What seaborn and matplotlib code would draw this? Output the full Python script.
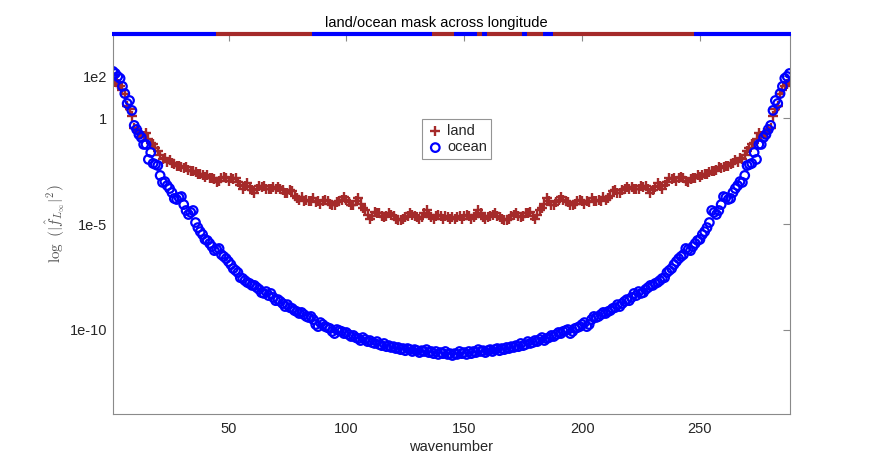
import numpy as np
import matplotlib
matplotlib.use('Agg')
import matplotlib.pyplot as plt
import seaborn as sns

# log10 of the power spectrum, wavenumbers 1..145;
# the spectrum of a real signal is symmetric, so 146..288 mirror 144..2
land_log_half = [
    1.90, 1.75, 1.61, 1.52, 1.33, 1.18, 0.57, 0.47, 0.14, -0.43,
    -0.57, -0.71, -0.71, -0.81, -0.71, -0.95, -1.14, -1.23, -1.42, -1.56,
    -1.75, -1.90, -1.85, -2.04, -1.99, -2.13, -2.18, -2.23, -2.27, -2.32,
    -2.37, -2.32, -2.46, -2.51, -2.51, -2.56, -2.65, -2.65, -2.70, -2.75,
    -2.70, -2.84, -2.80, -2.89, -2.99, -2.94, -2.84, -2.75, -2.80, -2.94,
    -2.84, -2.89, -2.84, -2.99, -3.13, -3.32, -3.18, -3.08, -3.27, -3.41,
    -3.51, -3.36, -3.22, -3.27, -3.22, -3.36, -3.32, -3.32, -3.27, -3.32,
    -3.27, -3.36, -3.41, -3.51, -3.55, -3.41, -3.46, -3.65, -3.79, -3.84,
    -3.74, -3.89, -3.84, -3.93, -3.89, -3.79, -3.98, -3.93, -4.03, -3.89,
    -3.84, -3.93, -4.03, -4.12, -4.08, -3.98, -3.89, -3.84, -3.74, -3.84,
    -3.98, -4.08, -4.12, -3.93, -3.79, -4.03, -4.22, -4.36, -4.55, -4.74,
    -4.60, -4.45, -4.50, -4.50, -4.60, -4.69, -4.60, -4.50, -4.55, -4.60,
    -4.74, -4.79, -4.83, -4.74, -4.69, -4.60, -4.50, -4.55, -4.60, -4.69,
    -4.74, -4.69, -4.50, -4.36, -4.55, -4.69, -4.74, -4.64, -4.55, -4.60,
    -4.74, -4.64, -4.69, -4.74, -4.69,
]
ocean_log_half = [
    2.23, 2.13, 1.99, 1.90, 1.52, 1.18, 0.71, 0.85, 0.38, -0.33,
    -0.52, -0.76, -0.90, -1.23, -1.23, -1.94, -1.61, -2.13, -2.18, -2.23,
    -2.70, -3.03, -2.99, -3.18, -3.32, -3.51, -3.79, -3.84, -3.74, -3.70,
    -4.08, -4.36, -4.55, -4.45, -4.36, -4.93, -5.17, -5.36, -5.50, -5.73,
    -5.78, -5.92, -6.07, -6.26, -6.21, -6.16, -6.45, -6.54, -6.64, -6.78,
    -6.92, -7.11, -7.20, -7.30, -7.54, -7.58, -7.68, -7.77, -7.82, -7.91,
    -7.91, -8.01, -8.10, -8.25, -8.29, -8.20, -8.39, -8.29, -8.48, -8.63,
    -8.58, -8.67, -8.77, -8.91, -8.82, -8.96, -9.00, -9.10, -9.15, -9.24,
    -9.19, -9.29, -9.38, -9.43, -9.38, -9.53, -9.76, -9.86, -9.67, -9.76,
    -9.86, -9.91, -9.95, -10.09, -10.19, -10.00, -10.05, -10.09, -10.19, -10.14,
    -10.24, -10.33, -10.28, -10.38, -10.43, -10.52, -10.38, -10.47, -10.57, -10.52,
    -10.62, -10.66, -10.57, -10.71, -10.76, -10.66, -10.81, -10.76, -10.85, -10.81,
    -10.90, -10.85, -10.95, -10.90, -11.00, -10.90, -10.95, -11.04, -10.95, -11.00,
    -11.09, -11.00, -11.04, -10.95, -11.09, -11.04, -11.14, -11.04, -11.18, -11.09,
    -11.14, -11.04, -11.18, -11.14, -11.23,
]

# land/ocean mask runs along the 288 longitudes (first index of each run)
mask_edges = [1, 45, 86, 137, 146, 156, 158, 160, 175, 177, 184, 188, 248, 289]
mask_kind = ['ocean', 'land', 'ocean', 'land', 'ocean', 'land', 'ocean',
             'land', 'ocean', 'land', 'ocean', 'land', 'ocean']

yticks = [1e2, 1, 1e-5, 1e-10]
yticklabels = ['1e2', '1', '1e-5', '1e-10']
xticks = [50, 100, 150, 200, 250]

land_color = '#A52A2A'
ocean_color = '#0000FF'
axis_gray = '#8a8a8a'
text_gray = '#262626'


def full_spectrum(half):
    half = list(half)
    return np.power(10.0, half + half[1:-1][::-1])


land = full_spectrum(land_log_half)
ocean = full_spectrum(ocean_log_half)
k = np.arange(1, len(land) + 1)

sns.set_style('white')
plt.rcParams['font.family'] = ['Liberation Sans', 'DejaVu Sans']
plt.rcParams['mathtext.fontset'] = 'cm'

fig, ax = plt.subplots(figsize=(8.72, 4.66), dpi=100)
fig.subplots_adjust(left=0.1296, right=0.9054, bottom=0.1116, top=0.927)

sns.scatterplot(x=k, y=land, marker='+', s=58, color=land_color,
                edgecolor=land_color, linewidth=1.7, label='land', ax=ax)
sns.scatterplot(x=k, y=ocean, marker='o', s=38, color=ocean_color,
                facecolor='none', edgecolor=ocean_color, linewidth=1.6,
                label='ocean', ax=ax)

ax.set_yscale('log')
ax.set_xlim(1, 288)
ax.set_ylim(1e-14, 1e4)

# mask strip along the top edge
colors = {'land': land_color, 'ocean': ocean_color}
for i, kind in enumerate(mask_kind):
    ax.hlines(1e4, mask_edges[i] - 0.5, mask_edges[i + 1] - 0.5,
              color=colors[kind], linewidth=3, clip_on=False, zorder=5)

ax.set_xticks(xticks)
ax.set_yticks(yticks)
ax.set_yticklabels(yticklabels)
ax.minorticks_off()
ax.tick_params(direction='in', length=5, width=0.8, color=axis_gray,
               labelcolor=text_gray, labelsize=10.5, top=True, right=True)
ax.tick_params(axis='x', pad=6)
ax.tick_params(axis='y', pad=4)
for sp in ax.spines.values():
    sp.set_color(axis_gray)
    sp.set_linewidth(0.8)

ax.set_title('land/ocean mask across longitude', fontsize=10.5,
             color='black', pad=5, x=0.478)
ax.set_xlabel('wavenumber', fontsize=10.5, color=text_gray, labelpad=3)
ax.set_ylabel(r'$\log\ (|\hat{f}_{L_\infty}|^2)$', fontsize=11,
              color='#555555', labelpad=2)

leg = ax.legend(loc='upper left', bbox_to_anchor=(0.457, 0.776),
                fontsize=10.5, frameon=True, fancybox=False,
                borderpad=0.3, handletextpad=0.2, handlelength=1.2,
                labelspacing=0.2, borderaxespad=0)
leg.get_frame().set_edgecolor('#7a7a7a')
leg.get_frame().set_linewidth(0.8)

fig.savefig('out.png', dpi=100)
